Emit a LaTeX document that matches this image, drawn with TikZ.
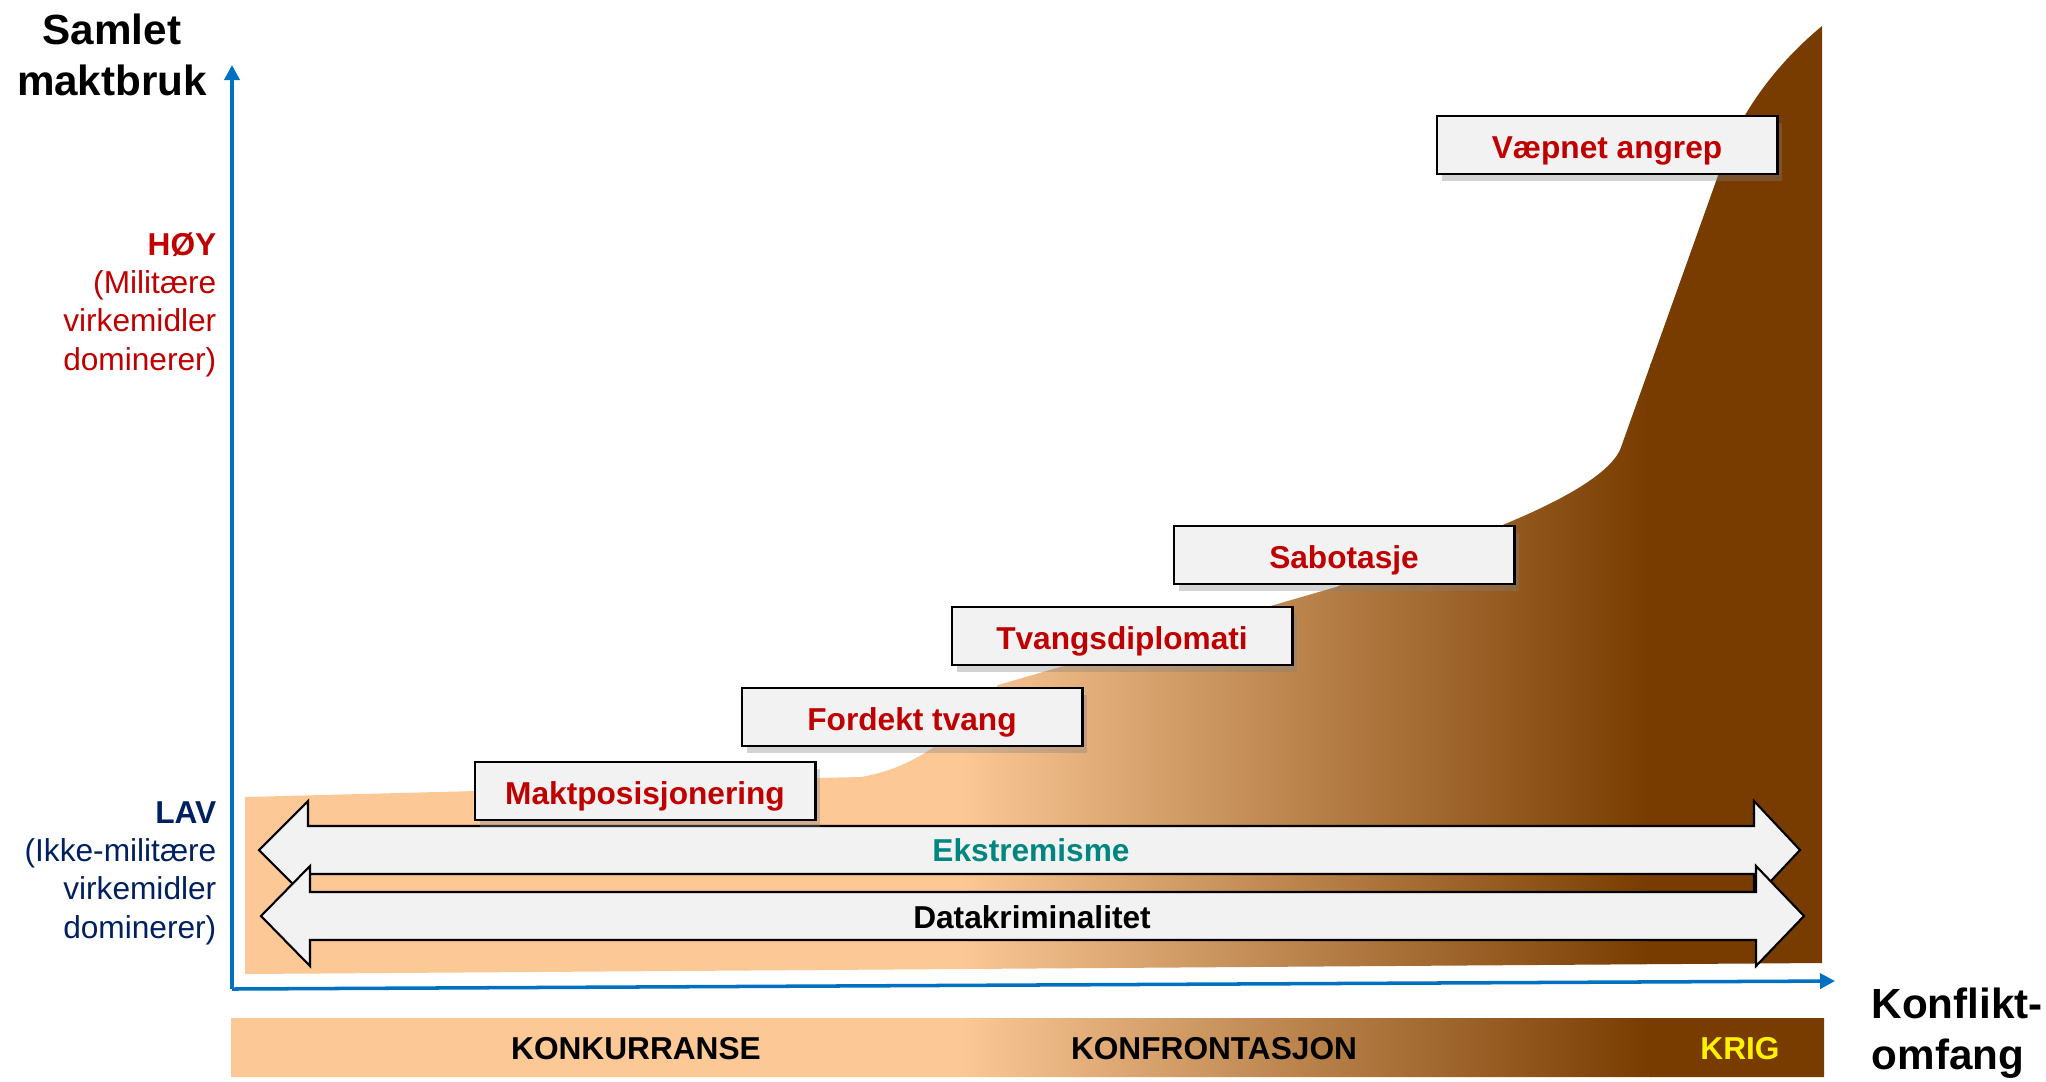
\documentclass[tikz,border=0pt]{standalone}
\usepackage{fontspec}
\setmainfont{Liberation Sans}
\usetikzlibrary{arrows.meta,shadows}
\definecolor{fersken}{RGB}{251,200,150}
\definecolor{brun}{RGB}{120,60,0}
\definecolor{mrkrod}{RGB}{192,0,0}
\definecolor{mrkbla}{RGB}{0,32,96}
\definecolor{akseblaa}{RGB}{0,112,192}
\definecolor{petrol}{RGB}{0,134,128}
\definecolor{boksgraa}{RGB}{242,242,242}
\begin{document}
\begin{tikzpicture}[x=0.01cm,y=-0.01cm,
	boks/.style={draw=black,line width=0.8pt,fill=boksgraa,minimum width=3.4cm,minimum height=0.58cm,text height=0.26cm,text depth=0pt,text=mrkrod,font=\fontsize{9}{11}\selectfont\bfseries,drop shadow={shadow xshift=0.05cm,shadow yshift=-0.07cm,opacity=0.35}},
	akse/.style={draw=akseblaa,line width=1pt,-{Triangle[length=0.15cm,width=0.15cm]}},
	pil/.style={draw=black,line width=0.6pt,fill=boksgraa},
	tekst/.style={font=\fontsize{9}{11}\selectfont\bfseries}]
				\tikzstyle{every node}+=[inner sep=0pt]
				\useasboundingbox (0,0) rectangle (2046,1081);
				\begin{scope}
				\clip (245,797) -- (476,791) -- (815,778) -- (861,777) .. controls (925,766) and (965,725) .. (998,685) -- (1336,587) -- (1480,534) .. controls (1560,503) and (1608,475) .. (1620,450) -- (1720,170) .. controls (1738,115) and (1775,65) .. (1822,26) -- (1822,963) -- (245,974) -- cycle
					(231,1018) rectangle (1824,1077);
				\fill [fersken] (0,0) rectangle (961,1081);
				\shade [left color=fersken,right color=brun] (960,0) rectangle (1651,1081);
				\fill [brun] (1650,0) rectangle (2046,1081);
				\end{scope}
				\coordinate (origo) at (232,989);
				\coordinate (ytopp) at (232,65);
				\coordinate (xende) at (1835,981);
				\draw [akse] (origo) -- (ytopp);
				\draw [akse] (origo) -- (xende);
				\node [anchor=base,align=center,font=\fontsize{12}{14.4}\selectfont\bfseries] (samlet) at (112,95) {Samlet\\maktbruk};
				\node [anchor=base west,align=left,font=\fontsize{12}{14.4}\selectfont\bfseries] (konflikt) at (1871,1069) {Konflikt-\\omfang};
				\node [anchor=base east,align=right,text=mrkrod,font=\fontsize{9}{10.9}\selectfont] (hoy) at (217,370) {\textbf{HØY}\\(Militære\\virkemidler\\dominerer)};
				\node [anchor=base east,align=right,text=mrkbla,font=\fontsize{9}{10.9}\selectfont] (lav) at (217,938) {\textbf{LAV}\\(Ikke-militære\\virkemidler\\dominerer)};
				\draw [pil] (259,850) -- (308,801) -- (308,826) -- (1754,826) -- (1754,801) -- (1800,850) -- (1754,899) -- (1754,874) -- (308,874) -- (308,899) -- cycle;
				\node [tekst,anchor=base,text=petrol] (ekstrem) at (1031,861) {Ekstremisme};
				\draw [pil] (261,916) -- (310,866) -- (310,892) -- (1756,892) -- (1756,866) -- (1804,916) -- (1756,966) -- (1756,940) -- (310,940) -- (310,966) -- cycle;
				\node [tekst,anchor=base] (datakrim) at (1032,928) {Datakriminalitet};
				\node [boks] (makt) at (645,791) {Maktposisjonering};
				\node [boks] (fordekt) at (912,717) {Fordekt tvang};
				\node [boks] (tvang) at (1122,636) {Tvangsdiplomati};
				\node [boks] (sabotasje) at (1344,555) {Sabotasje};
				\node [boks] (vaepnet) at (1607,145) {Væpnet angrep};
				\node [tekst,anchor=base] (konk) at (636,1059) {KONKURRANSE};
				\node [tekst,anchor=base] (konfr) at (1214,1059) {KONFRONTASJON};
				\node [tekst,anchor=base,text=yellow] (krig) at (1740,1059) {KRIG};
				\end{tikzpicture}
\end{document}
